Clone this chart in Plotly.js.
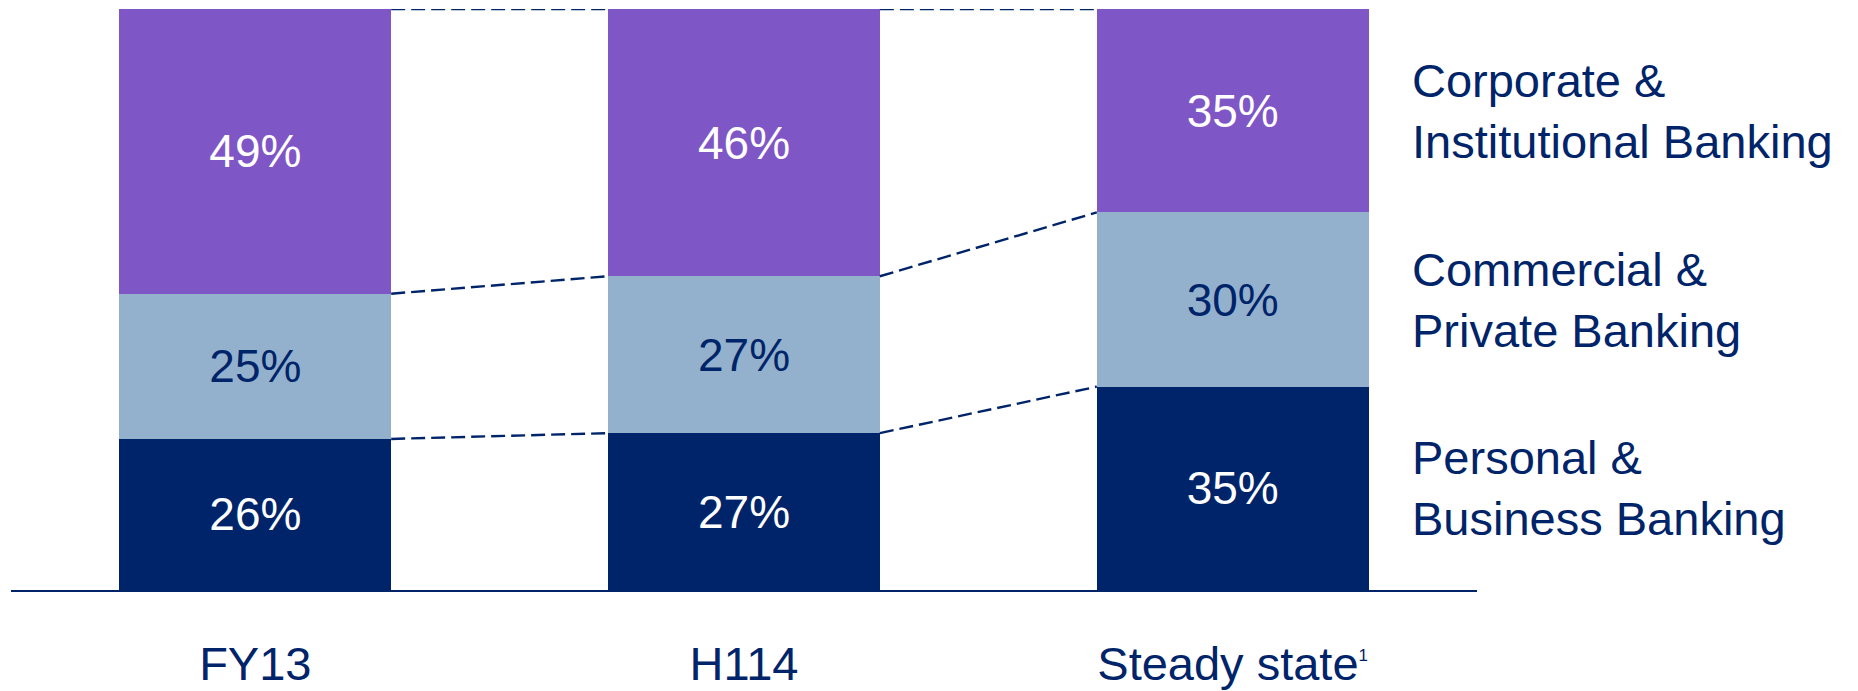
<!DOCTYPE html>
<html>
<head>
<meta charset="utf-8">
<script src="https://cdn.plot.ly/plotly-3.0.1.min.js"></script>
<style>html,body{margin:0;padding:0;background:#fff;}#chart{width:1858px;height:691px;}</style>
</head>
<body>
<div id="chart"></div>
<script>
// Data
const categories = ['FY13', 'H114', 'Steady state<sup><span style="font-size:17px">1</span></sup>'];
const personalBusiness = [26, 27, 35];
const commercialPrivate = [25, 27, 30];
const corporateInstitutional = [49, 46, 35];
const seriesNames = ['Personal &<br>Business Banking', 'Commercial &<br>Private Banking', 'Corporate &<br>Institutional Banking'];

const NAVY = '#002469';
const LIGHT = '#93B1CD';
const PURPLE = '#7F56C5';
const FONT = '"Liberation Sans", Arial, Helvetica, sans-serif';
const BAR_W = 0.556;

const xIdx = categories.map((c, i) => i);

function barTrace(vals, color, txtColor, name) {
  return {
    type: 'bar', x: xIdx, y: vals, name: name, width: BAR_W,
    marker: {color: color, line: {width: 0}},
    text: vals.map(v => v + '%'), textposition: 'inside', insidetextanchor: 'middle',
    textangle: 0, textfont: {family: FONT, size: 46, color: txtColor},
    hoverinfo: 'skip', cliponaxis: false
  };
}

const series = [personalBusiness, commercialPrivate, corporateInstitutional];
const traces = [
  barTrace(personalBusiness, NAVY, '#ffffff', seriesNames[0]),
  barTrace(commercialPrivate, LIGHT, NAVY, seriesNames[1]),
  barTrace(corporateInstitutional, PURPLE, '#ffffff', seriesNames[2])
];

// cumulative boundaries
const cum = [];
let run = categories.map(() => 0);
series.forEach(s => { run = run.map((r, i) => r + s[i]); cum.push(run.slice()); });

const shapes = [];
cum.forEach(level => {
  for (let i = 0; i < categories.length - 1; i++) {
    shapes.push({
      type: 'line', xref: 'x', yref: 'y',
      x0: i + BAR_W / 2, x1: i + 1 - BAR_W / 2, y0: level[i], y1: level[i + 1],
      line: {color: NAVY, width: 2.4, dash: '14px,6px'}
    });
  }
});

// Right-side labels at segment midpoints of last bar
const last = categories.length - 1;
const annotations = series.map((s, k) => {
  const base = k === 0 ? 0 : cum[k - 1][last];
  return {
    xref: 'paper', yref: 'y', x: 0.9543, y: base + s[last] / 2,
    xanchor: 'left', yanchor: 'middle', align: 'left', showarrow: false,
    text: seriesNames[k], font: {family: FONT, size: 47, color: NAVY}
  };
});

const layout = {
  width: 1858, height: 691,
  margin: {l: 11, r: 381, t: 9, b: 101, pad: 0},
  paper_bgcolor: '#ffffff', plot_bgcolor: '#ffffff',
  barmode: 'stack', showlegend: false,
  xaxis: {
    type: 'linear', range: [-0.5, 2.5], tickmode: 'array', tickvals: xIdx, ticktext: categories,
    showgrid: false, zeroline: false, showline: true, linecolor: NAVY, linewidth: 2,
    ticks: '', ticklabelstandoff: 32,
    tickfont: {family: FONT, size: 47, color: NAVY}, fixedrange: true
  },
  yaxis: {range: [0, 100], visible: false, showgrid: false, zeroline: false, fixedrange: true},
  shapes: shapes,
  annotations: annotations,
  font: {family: FONT, color: NAVY}
};

Plotly.newPlot('chart', traces, layout, {displayModeBar: false, staticPlot: true});
</script>
</body>
</html>
